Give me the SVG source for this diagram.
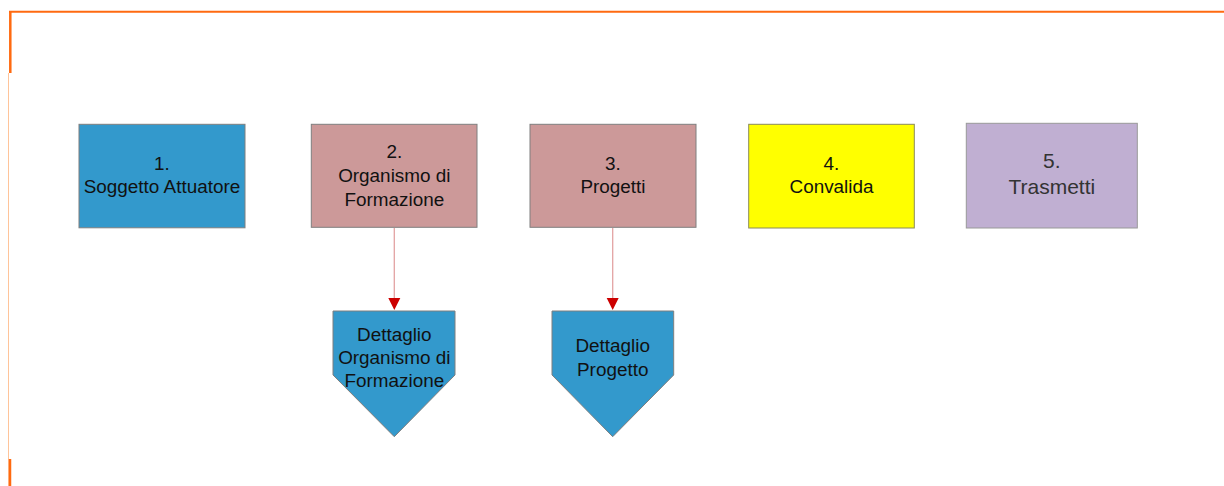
<svg xmlns="http://www.w3.org/2000/svg" width="1224" height="486" viewBox="0 0 1224 486">
<defs>
<style>
.box{stroke:#7f7f7f;stroke-width:1}
.t{font-family:"Liberation Sans",Arial,sans-serif;font-size:18.9px;fill:#111;text-anchor:middle}
.conn{stroke:#e3a3a3;stroke-width:1.3;fill:none}
.ah{fill:#cc0000}
</style>
</defs>
<rect width="1224" height="486" fill="#ffffff"/>
<g id="frame">
<line x1="9" y1="11.8" x2="1224" y2="11.8" stroke="#ff6a10" stroke-width="2"/>
<line x1="10.3" y1="11" x2="10.3" y2="73" stroke="#ff6a10" stroke-width="2.5"/>
<line x1="8.5" y1="73" x2="8.5" y2="486" stroke="#ffc49a" stroke-width="1"/>
<line x1="10" y1="459" x2="10" y2="486" stroke="#ff6a10" stroke-width="2.5"/>
</g>
<g id="connectors">
<line class="conn" x1="394.3" y1="228" x2="394.3" y2="298"/>
<path class="ah" d="M388.3,298 L400.3,298 L394.3,310 Z"/>
<line class="conn" x1="612.7" y1="228" x2="612.7" y2="298"/>
<path class="ah" d="M606.7,298 L618.7,298 L612.7,310 Z"/>
</g>
<g id="n1">
<rect class="box" x="79" y="124.3" width="166" height="103.5" fill="#3399cc"/>
<text class="t" x="162" y="170">1.</text>
<text class="t" x="162" y="193.3">Soggetto Attuatore</text>
</g>
<g id="n2">
<rect class="box" x="311.3" y="124.3" width="165.7" height="103" fill="#cc9999"/>
<text class="t" x="394.3" y="158">2.</text>
<text class="t" x="394.3" y="181.7">Organismo di</text>
<text class="t" x="394.3" y="205.7">Formazione</text>
</g>
<g id="n3">
<rect class="box" x="530" y="124.3" width="166" height="103" fill="#cc9999"/>
<text class="t" x="613" y="170">3.</text>
<text class="t" x="613" y="193.3">Progetti</text>
</g>
<g id="n4">
<rect x="748.7" y="124.3" width="165.6" height="103.7" fill="#ffff00" stroke="#8a8a5a" stroke-width="1"/>
<text class="t" x="831.5" y="170">4.</text>
<text class="t" x="831.5" y="193">Convalida</text>
</g>
<g id="n5">
<rect x="966.3" y="123.3" width="171" height="104.7" fill="#c0afd2" stroke="#999" stroke-width="1"/>
<text class="t" x="1051.8" y="168" style="font-size:21px;fill:#333">5.</text>
<text class="t" x="1051.8" y="194" style="font-size:21px;fill:#333">Trasmetti</text>
</g>
<g id="n6">
<path class="box" d="M333,311 L455,311 L455,375 L394.3,436.7 L333,375 Z" fill="#3399cc"/>
<text class="t" x="394.3" y="340.7">Dettaglio</text>
<text class="t" x="394.3" y="364.3">Organismo di</text>
<text class="t" x="394.3" y="386.7">Formazione</text>
</g>
<g id="n7">
<path class="box" d="M552,311 L673.7,311 L673.7,375 L612.7,436.7 L552,375 Z" fill="#3399cc"/>
<text class="t" x="612.7" y="352">Dettaglio</text>
<text class="t" x="612.7" y="375.7">Progetto</text>
</g>
</svg>
